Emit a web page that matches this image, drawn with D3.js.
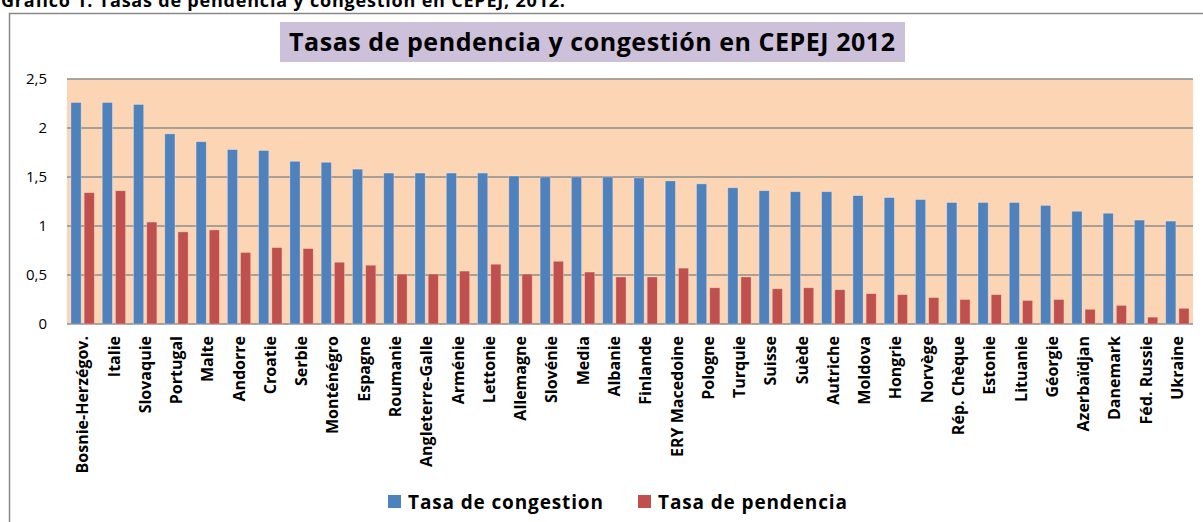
<!DOCTYPE HTML>
<html>
  <head>
    <title>Tasas de pendencia y congestión en CEPEJ 2012</title>
    <style>
      body {
        margin: 0;
        background: #fff;
      }

      text {
        font-family: "Open Sans", Lato, sans-serif;
        fill: #000;
      }

      .grid line {
        stroke: #8c8c8c;
        stroke-width: 1.5px;
      }

      .yLabel {
        font-size: 15px;
      }

      .xLabel {
        font-size: 16px;
        font-weight: bold;
      }
    </style>
  </head>
  <body>
    <svg width="1203" height="522"></svg>
    <script src="https://cdn.jsdelivr.net/npm/d3@7"></script>
    <script>
      var countries = [
        'Bosnie-Herzégov.', 'Italie', 'Slovaquie', 'Portugal', 'Malte', 'Andorre',
        'Croatie', 'Serbie', 'Monténégro', 'Espagne', 'Roumanie', 'Angleterre-Galle',
        'Arménie', 'Lettonie', 'Allemagne', 'Slovénie', 'Media', 'Albanie',
        'Finlande', 'ERY Macedoine', 'Pologne', 'Turquie', 'Suisse', 'Suède',
        'Autriche', 'Moldova', 'Hongrie', 'Norvège', 'Rép. Chèque', 'Estonie',
        'Lituanie', 'Géorgie', 'Azerbaïdjan', 'Danemark', 'Féd. Russie', 'Ukraine'
      ];

      var congestion = [
        2.26, 2.26, 2.24, 1.94, 1.86, 1.78,
        1.77, 1.66, 1.65, 1.58, 1.54, 1.54,
        1.54, 1.54, 1.51, 1.50, 1.50, 1.50,
        1.49, 1.46, 1.43, 1.39, 1.36, 1.35,
        1.35, 1.31, 1.29, 1.27, 1.24, 1.24,
        1.24, 1.21, 1.15, 1.13, 1.06, 1.05
      ];

      var pendencia = [
        1.34, 1.36, 1.04, 0.94, 0.96, 0.73,
        0.78, 0.77, 0.63, 0.60, 0.51, 0.51,
        0.54, 0.61, 0.51, 0.64, 0.53, 0.48,
        0.48, 0.57, 0.37, 0.48, 0.36, 0.37,
        0.35, 0.31, 0.30, 0.27, 0.25, 0.30,
        0.24, 0.25, 0.15, 0.19, 0.07, 0.16
      ];

      var seriesNames = [ 'Tasa de congestion', 'Tasa de pendencia' ];
      var seriesColors = [ '#4f81bd', '#c0504d' ];
      var yTicks = [ 0, 0.5, 1, 1.5, 2, 2.5 ];

      var svg = d3.select( 'svg' );

      var plot = { left: 67, right: 1193, top: 79, bottom: 324 };

      var xScale = d3.scaleBand()
        .domain( countries )
        .range( [ plot.left, plot.right ] );

      var seriesScale = d3.scaleBand()
        .domain( seriesNames )
        .range( [ 0, xScale.bandwidth() ] )
        .paddingInner( 0.23 )
        .paddingOuter( 0.3 );

      var yScale = d3.scaleLinear()
        .domain( [ 0, 2.5 ] )
        .range( [ plot.bottom, plot.top ] );

      var fmt = function( d ) { return String( d ).replace( '.', ',' ); };

      // header line, cut off at the top of the picture as in the original
      svg.append( 'text' )
        .text( 'Gráfico 1. Tasas de pendencia y congestión en CEPEJ, 2012.' )
        .attr( 'x', 1 )
        .attr( 'y', 7 )
        .attr( 'font-size', 18 )
        .attr( 'font-weight', 'bold' )
        .attr( 'textLength', 564 )
        .attr( 'lengthAdjust', 'spacing' );

      // outer chart frame
      svg.append( 'rect' )
        .attr( 'x', 9.5 )
        .attr( 'y', 13.5 )
        .attr( 'width', 1230 )
        .attr( 'height', 540 )
        .attr( 'fill', 'none' )
        .attr( 'stroke', '#888' )
        .attr( 'stroke-width', 1.5 );

      // title box
      svg.append( 'rect' )
        .attr( 'x', 280 )
        .attr( 'y', 22 )
        .attr( 'width', 625 )
        .attr( 'height', 40 )
        .attr( 'fill', '#ccc0da' );
      svg.append( 'text' )
        .text( 'Tasas de pendencia y congestión en CEPEJ 2012' )
        .attr( 'x', 592 )
        .attr( 'y', 51 )
        .attr( 'text-anchor', 'middle' )
        .attr( 'font-size', 25 )
        .attr( 'font-weight', 'bold' )
        .attr( 'textLength', 606 )
        .attr( 'lengthAdjust', 'spacing' );

      // plot background
      svg.append( 'rect' )
        .attr( 'x', plot.left )
        .attr( 'y', plot.top )
        .attr( 'width', plot.right - plot.left )
        .attr( 'height', plot.bottom - plot.top )
        .attr( 'fill', '#fcd5b5' );

      // gridlines
      svg.append( 'g' )
        .classed( 'grid', true )
        .selectAll( 'line' )
        .data( yTicks )
        .join( 'line' )
          .attr( 'x1', plot.left )
          .attr( 'x2', plot.right )
          .attr( 'y1', function( d ) { return yScale( d ); } )
          .attr( 'y2', function( d ) { return yScale( d ); } );

      // y labels
      svg.append( 'g' )
        .selectAll( 'text' )
        .data( yTicks )
        .join( 'text' )
          .classed( 'yLabel', true )
          .text( fmt )
          .attr( 'x', 47 )
          .attr( 'y', function( d ) { return yScale( d ); } )
          .attr( 'dy', '0.35em' )
          .attr( 'text-anchor', 'end' );

      // bars
      var groups = svg.append( 'g' )
        .selectAll( 'g' )
        .data( countries )
        .join( 'g' )
          .attr( 'transform', function( d ) { return 'translate(' + xScale( d ) + ',0)'; } );

      groups.selectAll( 'rect' )
        .data( function( d, i ) {
          return [
            { series: seriesNames[0], value: congestion[i], color: seriesColors[0] },
            { series: seriesNames[1], value: pendencia[i], color: seriesColors[1] }
          ];
        } )
        .join( 'rect' )
          .attr( 'x', function( d ) { return seriesScale( d.series ); } )
          .attr( 'width', seriesScale.bandwidth() )
          .attr( 'y', function( d ) { return yScale( d.value ); } )
          .attr( 'height', function( d ) { return yScale( 0 ) - yScale( d.value ); } )
          .attr( 'fill', function( d ) { return d.color; } )
          .attr( 'stroke', 'rgba(255,255,255,0.35)' )
          .attr( 'stroke-width', 0.8 );

      // category labels, rotated
      svg.append( 'g' )
        .selectAll( 'text' )
        .data( countries )
        .join( 'text' )
          .classed( 'xLabel', true )
          .text( function( d ) { return d; } )
          .attr( 'text-anchor', 'end' )
          .attr( 'dy', '0.35em' )
          .attr( 'transform', function( d ) {
            return 'translate(' + ( xScale( d ) + xScale.bandwidth() / 2 ) + ',336) rotate(-90)';
          } );

      // legend
      var legendX = [ 388, 638 ];
      var legendLen = [ 195, 189 ];
      var legend = svg.append( 'g' )
        .selectAll( 'g' )
        .data( seriesNames )
        .join( 'g' )
          .attr( 'transform', function( d, i ) { return 'translate(' + legendX[i] + ',495)'; } );
      legend.append( 'rect' )
        .attr( 'width', 13 )
        .attr( 'height', 13 )
        .attr( 'fill', function( d, i ) { return seriesColors[i]; } );
      legend.append( 'text' )
        .text( function( d ) { return d; } )
        .attr( 'x', 20 )
        .attr( 'y', 7 )
        .attr( 'dy', '0.35em' )
        .attr( 'font-size', 19 )
        .attr( 'font-weight', 'bold' )
        .attr( 'textLength', function( d, i ) { return legendLen[i]; } )
        .attr( 'lengthAdjust', 'spacing' );
    </script>
  </body>
</html>
